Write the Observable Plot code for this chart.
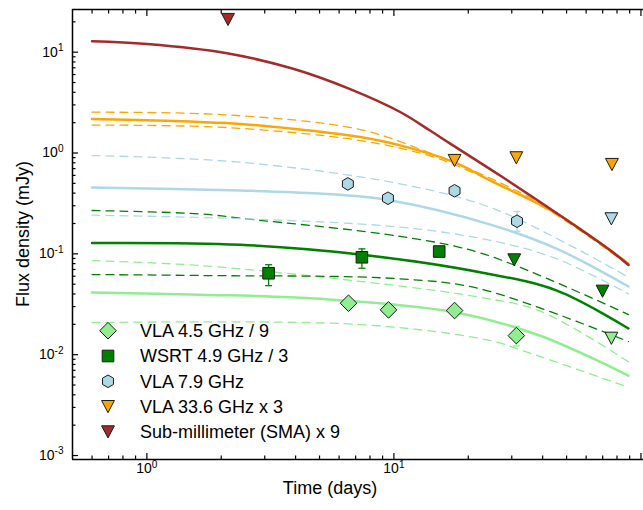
<!DOCTYPE html>
<html><head><meta charset="utf-8">
<script src="https://cdn.jsdelivr.net/npm/d3@7"></script>
<script src="https://cdn.jsdelivr.net/npm/@observablehq/plot@0.6"></script>
<style>
body{margin:0;background:#fff;}
#chart{position:relative;width:643px;height:510px;}
svg{font-family:"Liberation Sans",Arial,sans-serif;}
</style></head><body><div id="chart"></div>
<script>
// ---------- data (time in days, flux in mJy) ----------
// model curves [t, f]
const smaModel   = [[0.6,12.85],[1.0,12.05],[2.11,9.77],[3.91,6.84],[6.65,4.3],[10.6,2.55],[14.0,1.67],[16.9,1.24],[26.9,0.598],[45.8,0.251],[75.2,0.108],[89,0.0776]];
const vla336Model= [[0.6,2.18],[2.1,1.98],[3.9,1.74],[7.3,1.44],[10.6,1.19],[17.5,0.811],[24.6,0.533],[45.7,0.25],[75.2,0.108],[89,0.0796]];
const vla336Up   = [[0.6,2.54],[2.1,2.39],[7.3,1.71],[14.0,1.0],[20.4,0.69],[42.9,0.28],[89,0.081]];
const vla336Lo   = [[0.6,1.89],[2.1,1.79],[7.3,1.33],[14.0,0.935],[20.4,0.655],[42.9,0.265],[89,0.0775]];
const vla79Model = [[0.6,0.455],[2.39,0.425],[5.0,0.396],[9.46,0.342],[24.6,0.195],[45.7,0.112],[89,0.0474]];
const vla79Up    = [[0.6,0.944],[2.39,0.811],[10.6,0.494],[24.6,0.288],[55,0.112],[89,0.0586]];
const vla79Lo    = [[0.6,0.242],[2.54,0.222],[10.6,0.184],[24.6,0.136],[45.4,0.0897],[89,0.0401]];
const wsrtModel  = [[0.6,0.128],[2.39,0.123],[7.42,0.0982],[22.3,0.0658],[45.7,0.0432],[89,0.0182]];
const wsrtUp     = [[0.6,0.269],[1.64,0.249],[2.54,0.222],[10.6,0.149],[23,0.10],[89,0.025]];
const wsrtLo     = [[0.6,0.0623],[1.64,0.061],[10.6,0.0565],[22.3,0.045],[89,0.0135]];
const vla45Model = [[0.6,0.0413],[1.64,0.0394],[5.03,0.0358],[17.6,0.0264],[39.1,0.0154],[89,0.0062]];
const vla45Up    = [[0.6,0.0857],[1.64,0.0766],[6.83,0.0543],[22.3,0.0371],[39.1,0.027],[89,0.0085]];
const vla45Lo    = [[0.6,0.0208],[7.3,0.0199],[24.6,0.0138],[34.6,0.0106],[89,0.00475]];

// detections
const vla45T = [6.55, 9.51, 17.6, 31.3];
const vla45F = [0.0324, 0.0278, 0.0274, 0.01545];
const vla45ErrLo = [null, null, null, 0.0122];
const vla45ErrHi = [null, null, null, 0.0191];
const wsrtT = [3.11, 7.42, 15.25];
const wsrtF = [0.0642, 0.0925, 0.1054];
const wsrtErrLo = [0.0484, 0.072, 0.097];
const wsrtErrHi = [0.078, 0.112, 0.114];
const vla79T = [6.51, 9.46, 17.6, 31.5];
const vla79F = [0.494, 0.356, 0.422, 0.2106];
const vla79ErrLo = [null, null, null, 0.1675];
const vla79ErrHi = [null, null, null, 0.263];
// upper limits
const vla45LimT = [75.9];        const vla45LimF = [0.01455];
const wsrtLimT = [30.7, 69.9];   const wsrtLimF = [0.0871, 0.0426];
const vla79LimT = [75.9];        const vla79LimF = [0.2224];
const vla336LimT = [17.6, 31.3, 76.3]; const vla336LimF = [0.843, 0.896, 0.769];
const smaLimT = [2.13];          const smaLimF = [21.1];

// axes
const xDomain = [0.5, 102.4];
const yDomain = [9.13e-4, 26.5];
const xLabelTicks = [1, 10];
const yLabelTicks = [1e-3, 1e-2, 1e-1, 1, 10];
const legendLabels = ["VLA 4.5 GHz / 9", "WSRT 4.9 GHz / 3", "VLA 7.9 GHz", "VLA 33.6 GHz x 3", "Sub-millimeter (SMA) x 9"];
const xTitle = "Time (days)";
const yTitle = "Flux density (mJy)";

// ---------- styles ----------
const C = {lg:"#90ee90", g:"#008000", lb:"#add8e6", o:"#ffa500", br:"#a52a2a"};

// custom symbols (r = sqrt(size/pi))
const rr = s => Math.sqrt(s/Math.PI);
const symDiamond = {draw(c,s){const r=rr(s); c.moveTo(0,-r);c.lineTo(r,0);c.lineTo(0,r);c.lineTo(-r,0);c.closePath();}};
const symSquare  = {draw(c,s){const r=rr(s); c.rect(-r,-r,2*r,2*r);}};
const symHex     = {draw(c,s){const r=rr(s); for(let i=0;i<6;i++){const a=Math.PI/3*i-Math.PI/2; const x=r*Math.cos(a), y=r*Math.sin(a); i?c.lineTo(x,y):c.moveTo(x,y);} c.closePath();}};
const symTri     = {draw(c,s){const r=rr(s); c.moveTo(-r,-r*0.95);c.lineTo(r,-r*0.95);c.lineTo(0,r*0.95);c.closePath();}};
const symCap     = {draw(c,s){const r=rr(s); c.moveTo(-r,0);c.lineTo(r,0);}};

// ---------- build tables ----------
const toRows = (pts, id, color) => pts.map(([t,f]) => ({t, f, id, color}));
const solid = [
  ...toRows(vla45Model,"lg",C.lg), ...toRows(wsrtModel,"g",C.g), ...toRows(vla79Model,"lb",C.lb),
  ...toRows(vla336Model,"o",C.o), ...toRows(smaModel,"br",C.br)];
const dashed = [
  ...toRows(vla45Up,"lgU",C.lg), ...toRows(vla45Lo,"lgL",C.lg),
  ...toRows(wsrtUp,"gU",C.g), ...toRows(wsrtLo,"gL",C.g),
  ...toRows(vla79Up,"lbU",C.lb), ...toRows(vla79Lo,"lbL",C.lb),
  ...toRows(vla336Up,"oU",C.o), ...toRows(vla336Lo,"oL",C.o)];
const pts = (T,F) => T.map((t,i)=>({t, f:F[i]}));
const errs = (T,L,H,color) => T.map((t,i)=>({t, lo:L[i], hi:H[i], color})).filter(d=>d.lo!=null);
const errRows = [...errs(vla45T,vla45ErrLo,vla45ErrHi,C.lg), ...errs(wsrtT,wsrtErrLo,wsrtErrHi,C.g), ...errs(vla79T,vla79ErrLo,vla79ErrHi,C.lb)];
const capRows = errRows.flatMap(d=>[{t:d.t,f:d.lo,color:d.color},{t:d.t,f:d.hi,color:d.color}]);

const yMinor = [];
for (let e=-3;e<=1;e++) for (let k=2;k<=9;k++){const v=k*10**e; if(v<=yDomain[1]) yMinor.push(v);}
const xMinor = [];
for (let e=-1;e<=1;e++) for (let k=2;k<=9;k++){const v=k*10**e; if(v>xDomain[0] && v<=xDomain[1]) xMinor.push(v);}
const fmt = d => "10^" + Math.round(Math.log10(d));

const dotOpts = (sym, r, fill) => ({x:"t", y:"f", symbol:sym, r, fill, stroke:"#1a1a1a", strokeWidth:1});

const plot = Plot.plot({
  width: 643, height: 510,
  marginLeft: 72, marginRight: 0, marginTop: 9, marginBottom: 51,
  style: {fontFamily: '"Liberation Sans", Arial, sans-serif', background: "#fff"},
  x: {type: "log", domain: xDomain},
  y: {type: "log", domain: yDomain},
  color: {type: "identity"},
  marks: [
    Plot.line(dashed, {x:"t", y:"f", z:"id", stroke:"color", strokeWidth:1.3, strokeDasharray:"8,6", curve:"catmull-rom"}),
    Plot.line(solid, {x:"t", y:"f", z:"id", stroke:"color", strokeWidth:2.5, curve:"catmull-rom"}),
    Plot.ruleX(errRows, {x:"t", y1:"lo", y2:"hi", stroke:"color", strokeWidth:1.3}),
    Plot.dot(capRows, {x:"t", y:"f", symbol:symCap, r:3.5, stroke:"color", strokeWidth:1.3}),
    Plot.dot(pts(vla45T,vla45F), dotOpts(symDiamond, 8.3, C.lg)),
    Plot.dot(pts(wsrtT,wsrtF), dotOpts(symSquare, 5.8, C.g)),
    Plot.dot(pts(vla79T,vla79F), dotOpts(symHex, 6.3, C.lb)),
    Plot.dot(pts(vla45LimT,vla45LimF), dotOpts(symTri, 6.4, C.lg)),
    Plot.dot(pts(wsrtLimT,wsrtLimF), dotOpts(symTri, 6.4, C.g)),
    Plot.dot(pts(vla79LimT,vla79LimF), dotOpts(symTri, 6.4, C.lb)),
    Plot.dot(pts(vla336LimT,vla336LimF), dotOpts(symTri, 6.4, C.o)),
    Plot.dot(pts(smaLimT,smaLimF), dotOpts(symTri, 6.4, C.br)),
    // frame (left, top, bottom)
    Plot.ruleX([xDomain[0]], {stroke:"#000", strokeWidth:1.5}),
    Plot.ruleY([yDomain[0]], {stroke:"#000", strokeWidth:1.5}),
    Plot.ruleY([yDomain[1]], {stroke:"#000", strokeWidth:1.5}),
    // inward ticks
    Plot.axisY(yLabelTicks, {anchor:"left", tickSize:-6, fill:"none", strokeWidth:1.2}),
    Plot.axisY(yMinor, {anchor:"left", tickSize:-3.5, fill:"none", strokeWidth:1.2}),
    Plot.axisX([...xLabelTicks, 100].filter(v=>v<=xDomain[1]), {anchor:"bottom", tickSize:-6, fill:"none", strokeWidth:1.2}),
    Plot.axisX(xMinor, {anchor:"bottom", tickSize:-3.5, fill:"none", strokeWidth:1.2}),
    Plot.axisX([...xLabelTicks, 100].filter(v=>v<=xDomain[1]), {anchor:"top", tickSize:-6, fill:"none", strokeWidth:1.2}),
    Plot.axisX(xMinor, {anchor:"top", tickSize:-3.5, fill:"none", strokeWidth:1.2}),
    // tick labels
    Plot.axisY(yLabelTicks, {anchor:"left", tickSize:0, tickPadding:9, tickFormat:fmt, label:null, fontSize:14, fill:"#000"}),
    Plot.axisX(xLabelTicks, {anchor:"bottom", tickSize:0, tickPadding:4, tickFormat:fmt, label:null, fontSize:14, fill:"#000"})
  ]
});

document.getElementById("chart").appendChild(plot);
const svg = d3.select(plot);
const NS = "http://www.w3.org/2000/svg";

// superscripts in tick labels
plot.querySelectorAll('g[aria-label$="tick label"] text').forEach(t => {
  const m = t.textContent.match(/^10\^(.+)$/); if (!m) return;
  t.textContent = "";
  const a = document.createElementNS(NS,"tspan"); a.textContent = "10"; t.appendChild(a);
  const b = document.createElementNS(NS,"tspan"); b.textContent = m[1];
  b.setAttribute("dy","-0.55em"); b.setAttribute("font-size","0.72em"); t.appendChild(b);
});

// axis titles
svg.append("text").attr("x",330).attr("y",494).attr("text-anchor","middle")
  .attr("font-size",18).attr("fill","#000").text(xTitle);
svg.append("text").attr("transform","translate(29,234) rotate(-90)").attr("text-anchor","middle")
  .attr("font-size",18).attr("fill","#000").text(yTitle);

// legend
const legSyms = [[symDiamond,8.3,C.lg],[symSquare,5.8,C.g],[symHex,6.3,C.lb],[symTri,6.4,C.o],[symTri,6.4,C.br]];
const leg = svg.append("g").attr("text-anchor","start");
legendLabels.forEach((lab,i) => {
  const cy = 330.7 + i*25.3;
  const [s,r,fill] = legSyms[i];
  leg.append("path").attr("transform",`translate(108,${cy})`)
    .attr("d", d3.symbol(s, Math.PI*r*r)()).attr("fill",fill).attr("stroke","#1a1a1a").attr("stroke-width",1);
  leg.append("text").attr("x",140).attr("y",cy).attr("dy","0.36em").attr("text-anchor","start")
    .attr("font-size",18).attr("fill","#000").text(lab);
});
</script></body></html>
